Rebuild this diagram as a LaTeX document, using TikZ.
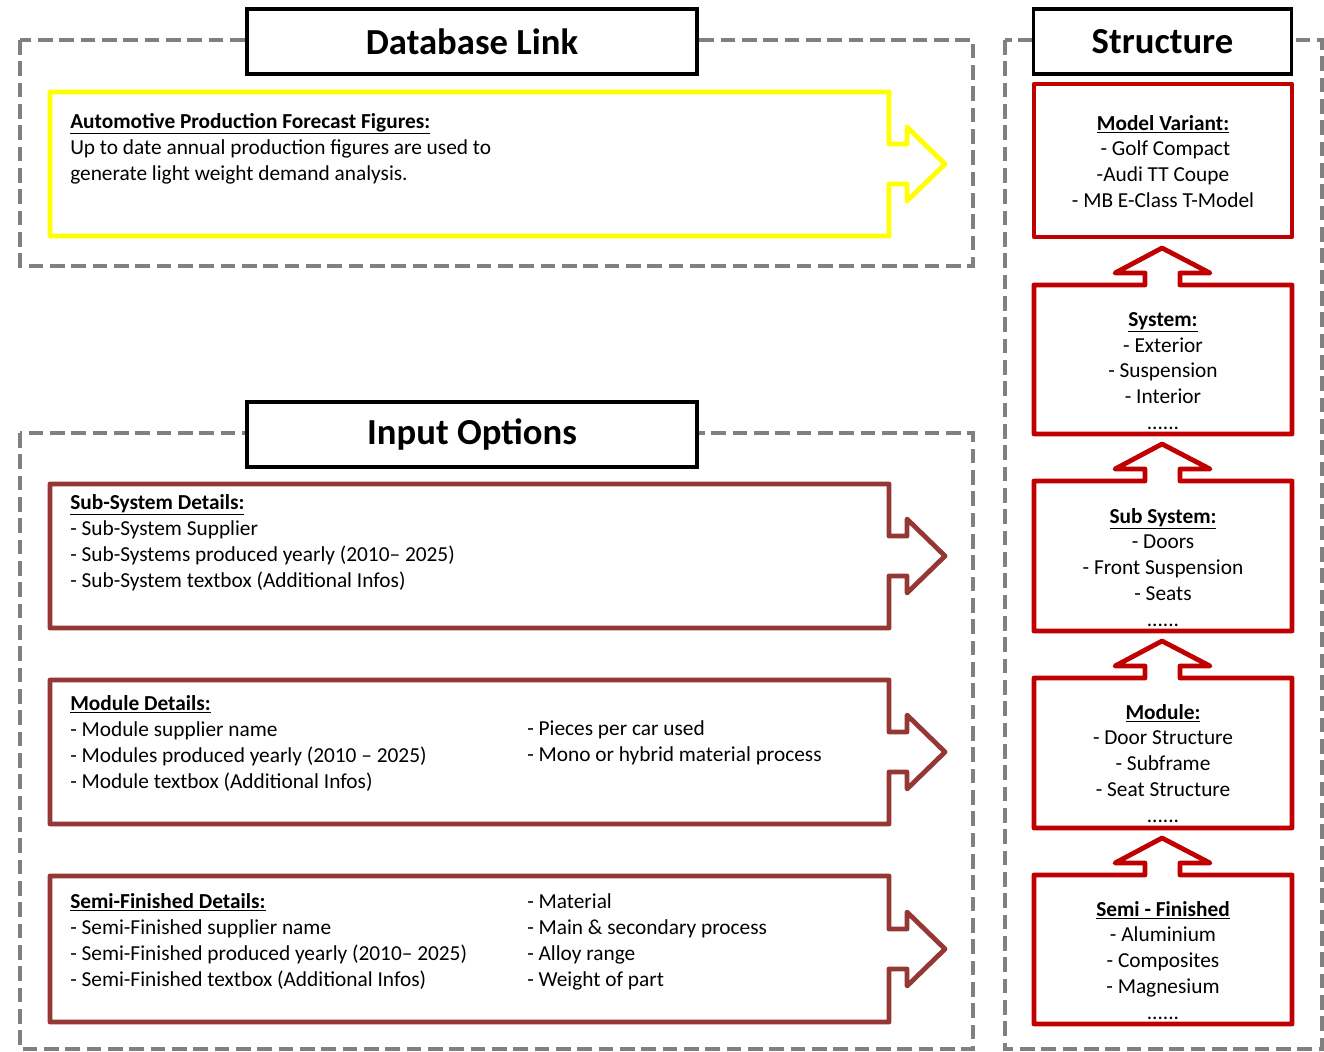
\documentclass[tikz,border=0pt]{standalone}
\usepackage{fontspec}
\setmainfont{Carlito}
\usetikzlibrary{positioning}

\definecolor{frameGray}{RGB}{128,128,128}
\definecolor{linkYellow}{RGB}{255,255,0}
\definecolor{inputRed}{RGB}{149,55,53}
\definecolor{structRed}{RGB}{192,0,0}

\tikzset{
  dashframe/.style={draw=frameGray,line width=2.6pt,dash pattern=on 11pt off 5pt},
  titlebox/.style={draw=black,fill=white,line width=2.4pt,inner sep=0pt,
    font=\fontsize{27.5}{32}\selectfont\bfseries},
  linkshape/.style={draw=linkYellow,line width=3.6pt,line join=round},
  inshape/.style={draw=inputRed,line width=3.6pt,line join=round},
  structshape/.style={draw=structRed,line width=3.6pt,line join=round},
  lefttext/.style={anchor=north west,inner sep=0pt,align=left,
    font=\fontsize{16}{19.5}\selectfont},
  midtext/.style={anchor=north,inner sep=0pt,align=center,
    font=\fontsize{16}{19.3}\selectfont}
}
\newcommand{\headline}[1]{\underline{\textbf{#1}}}

\begin{document}
\begin{tikzpicture}[x=0.75pt,y=-0.75pt]
\useasboundingbox (0,0) rectangle (1324,1051);

% dashed frames
\draw[dashframe] (20,40) rectangle (973,266);
\draw[dashframe] (20,433) rectangle (973,1049);
\draw[dashframe] (1005,40) rectangle (1322,1049);

% titles
\node[titlebox,minimum width=337.5pt,minimum height=48.75pt] (dbtitle) at (472,41.5) {Database Link};
\node[titlebox,minimum width=337.5pt,minimum height=48.75pt] (intitle) at (472,434.5) {Input Options};
\node[titlebox,minimum width=194pt,minimum height=48.75pt] (sttitle) at (1162.5,41.5) {Structure};

% database link arrow
\draw[linkshape] (50,92) -- (889,92) -- (889,144) -- (907,144) -- (907,127) -- (945,164)
  -- (907,201) -- (907,184) -- (889,184) -- (889,236) -- (50,236) -- cycle;
\node[lefttext] (forecast) at (70,113) {\headline{Automotive Production Forecast Figures:}\\
Up to date annual production figures are used to\\
generate light weight demand analysis.};

% input option arrows
\foreach \t/\b in {484/628,680/824,876/1022}{
  \draw[inshape] (50,\t) -- (889,\t) -- (889,{(\t+\b)/2-20}) -- (907,{(\t+\b)/2-20})
    -- (907,{(\t+\b)/2-37}) -- (945,{(\t+\b)/2}) -- (907,{(\t+\b)/2+37})
    -- (907,{(\t+\b)/2+20}) -- (889,{(\t+\b)/2+20}) -- (889,\b) -- (50,\b) -- cycle;
}
\node[lefttext] (subsys) at (70,494) {\headline{Sub-System Details:}\\
- Sub-System Supplier\\
- Sub-Systems produced yearly (2010-- 2025)\\
- Sub-System textbox (Additional Infos)};
\node[lefttext] (modleft) at (70,695) {\headline{Module Details:}\\
- Module supplier name\\
- Modules produced yearly (2010 -- 2025)\\
- Module textbox (Additional Infos)};
\node[lefttext] (modright) at (527,720) {- Pieces per car used\\
- Mono or hybrid material process};
\node[lefttext] (semileft) at (70,893) {\headline{Semi-Finished Details:}\\
- Semi-Finished supplier name\\
- Semi-Finished produced yearly (2010-- 2025)\\
- Semi-Finished textbox (Additional Infos)};
\node[lefttext] (semiright) at (527,893) {- Material\\
- Main \& secondary process\\
- Alloy range\\
- Weight of part};

% structure column
\draw[structshape] (1034,84) rectangle (1292,237);
\foreach \t/\b in {285/434,481/631,678/828,875/1024}{
  \draw[structshape] (1034,\t) -- (1145,\t) -- (1145,\t-12) -- (1115,\t-12) -- (1162,\t-37)
    -- (1210,\t-12) -- (1180,\t-12) -- (1180,\t) -- (1292,\t) -- (1292,\b) -- (1034,\b) -- cycle;
}
\node[midtext] (variant) at (1163,115) {\headline{Model Variant:}\\
\ - Golf Compact\\
-Audi TT Coupe\\
- MB E-Class T-Model};
\node[midtext] (system) at (1163,312) {\headline{System:}\\
- Exterior\\
- Suspension\\
- Interior\\
......};
\node[midtext] (subsystem) at (1163,508) {\headline{Sub System:}\\
- Doors\\
- Front Suspension\\
- Seats\\
......};
\node[midtext] (module) at (1163,704) {\headline{Module:}\\
- Door Structure\\
- Subframe\\
- Seat Structure\\
......};
\node[midtext] (semi) at (1163,901) {\headline{Semi - Finished}\\
- Aluminium\\
- Composites\\
- Magnesium\\
......};
\end{tikzpicture}
\end{document}
